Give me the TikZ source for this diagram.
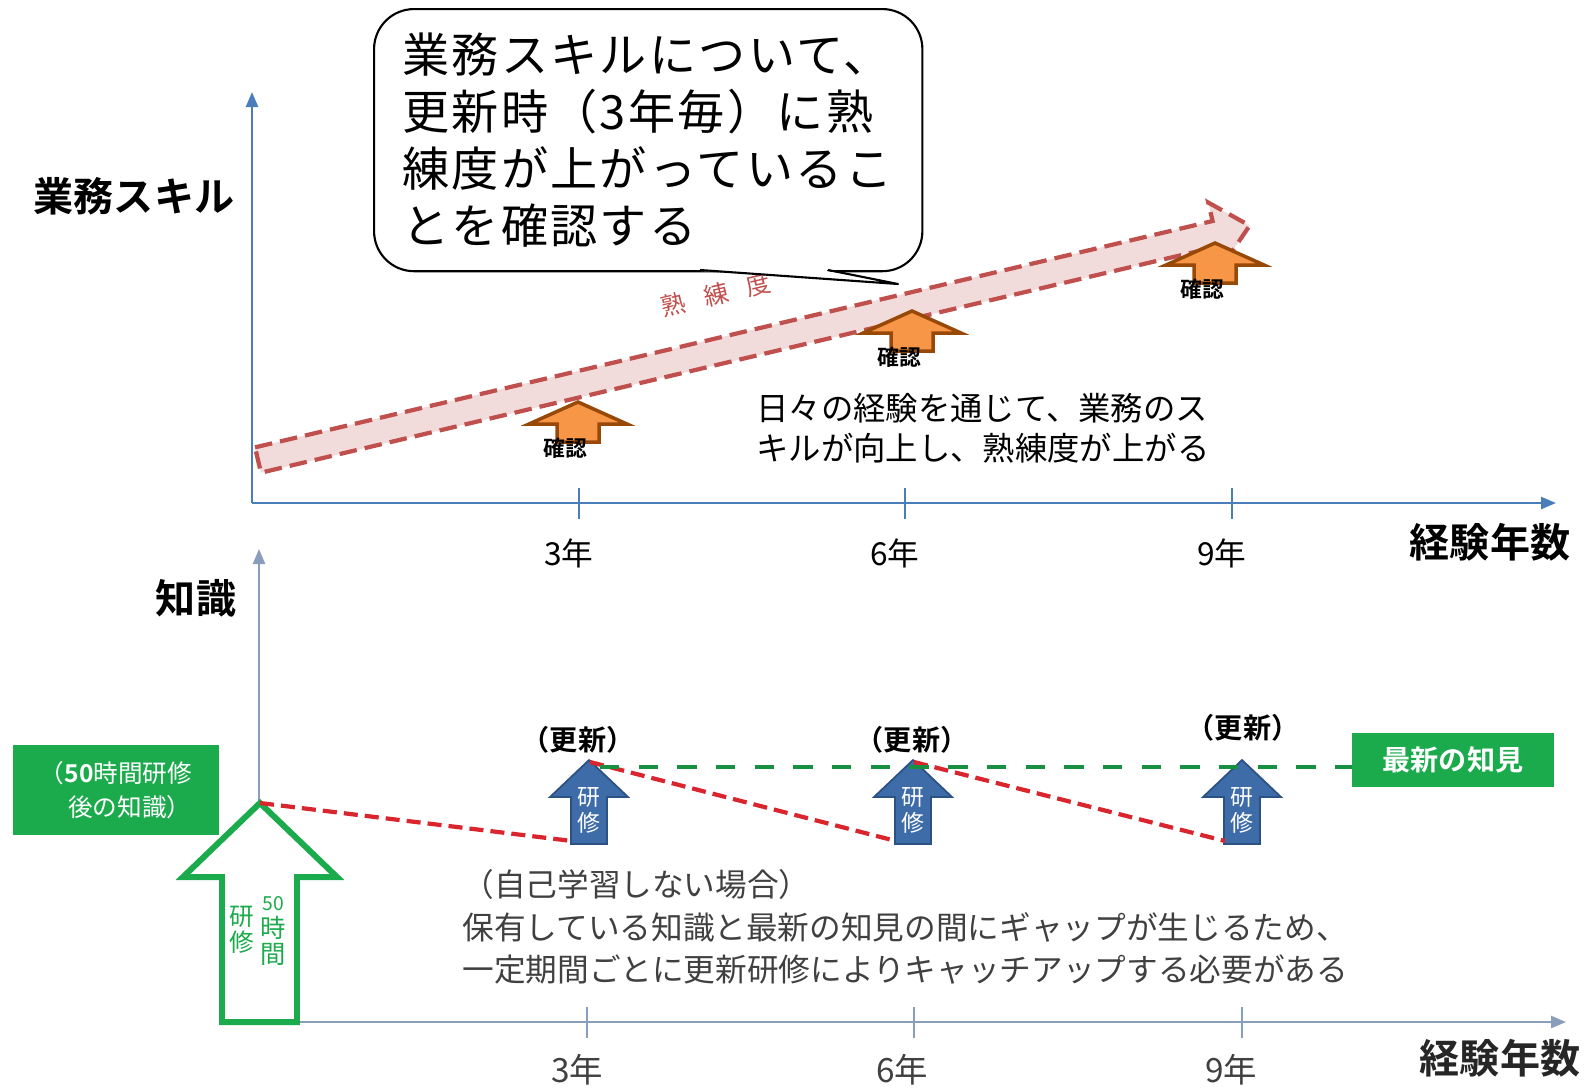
\documentclass[tikz,border=0pt]{standalone}
\usepackage{fontspec}
\setmainfont{Noto Sans CJK JP}[BoldFont={Noto Sans CJK JP Bold}]
\newfontfamily\calloutfont{Noto Sans CJK JP}[LetterSpace=5.0]
\usepackage{tikz}
\usetikzlibrary{arrows.meta}

\definecolor{axisblue}{HTML}{4A7EBB}
\definecolor{axisgray}{HTML}{8A9DBA}
\definecolor{skillred}{HTML}{C0504D}
\definecolor{skillpink}{HTML}{F2DCDB}
\definecolor{chkorange}{HTML}{F79646}
\definecolor{chkbrown}{HTML}{984807}
\definecolor{kenblue}{HTML}{3D6CA8}
\definecolor{kenborder}{HTML}{2C5283}
\definecolor{newgreen}{HTML}{1BAA4C}
\definecolor{gapred}{HTML}{D9262E}
\definecolor{textgray}{HTML}{404040}

\begin{document}
\begin{tikzpicture}[x=0.01cm, y=-0.01cm,
    axis/.style={line width=0.7pt, -{Triangle[length=1.5mm, width=1.2mm]}},
    tick/.style={line width=0.6pt},
    yearlab/.style={font=\fontsize{9pt}{10pt}\selectfont},
    axislab/.style={font=\fontsize{11.4pt}{13pt}\selectfont\bfseries},
    chkarrow/.style={draw=chkbrown, fill=chkorange, line width=1pt, line join=miter},
    chklabel/.style={font=\fontsize{6.2pt}{7pt}\selectfont\bfseries, inner sep=0pt},
    kenarrow/.style={draw=kenborder, fill=kenblue, line width=0.5pt},
    kenlabel/.style={text=white, align=center, inner sep=0pt, font=\fontsize{6.5pt}{7.4pt}\selectfont},
    renew/.style={font=\fontsize{8pt}{9pt}\selectfont\bfseries},
    greenbox/.style={fill=newgreen, text=white, inner sep=0pt}]

    \useasboundingbox (0,0) rectangle (1595,1087);

    % Skill chart
    \coordinate (o-top) at (252,503);
    \coordinate (x-top) at (1556,503);
    \coordinate (y-top) at (252,92);
    \draw[axis, axisblue] (o-top) -- (x-top);
    \draw[axis, axisblue] (o-top) -- (y-top);
    \foreach \x/\lab [count=\i] in {579/3年, 905/6年, 1232/9年} {
        \draw[tick, axisblue] (\x,488) -- (\x,519);
        \node[yearlab] (yr-top-\i) at (\x-10,553) {\lab};
    }
    \node[axislab] (skill-lab) at (134,196) {業務スキル};
    \node[axislab] (exp-top) at (1490,542) {経験年数};

    % Proficiency arrow
    \begin{scope}[shift={(258,460)}, rotate=13.3]
        \draw[draw=skillred, fill=skillpink, line width=1.2pt, dash pattern=on 5pt off 2.3pt]
            (0,-13) -- (984,-13) -- (984,-32) -- (1019,0) -- (984,32) -- (984,13) -- (0,13) -- cycle;
    \end{scope}
    \node[text=skillred, rotate=13.3, font=\fontsize{7pt}{8pt}\selectfont] (skill-word) at (716,295) {熟\hspace{1.9mm}練\hspace{1.9mm}度};

    % Checks
    \foreach \x/\y [count=\i] in {578/402, 912/311, 1215/243} {
        \draw[chkarrow] (\x,\y) -- ++(49,22) -- ++(-28,0) -- ++(0,18) -- ++(-42,0) -- ++(0,-18) -- ++(-28,0) -- cycle;
        \node[chklabel] (chk-\i) at (\x-13,\y+46) {確認};
    }

    \node[anchor=west, align=left, font=\fontsize{9.2pt}{11.5pt}\selectfont] (exp-note) at (744,428)
        {日々の経験を通じて、業務のス\\キルが向上し、熟練度が上がる};

    % Callout
    \node[draw, fill=white, line width=0.6pt, rounded corners=4mm, anchor=north west,
          inner xsep=0.28cm, text width=4.92cm, minimum height=2.62cm, align=left,
          font=\calloutfont\fontsize{13.4pt}{16.2pt}\selectfont] (callout) at (373,8)
        {業務スキルについて、\\更新時（3年毎）に熟\\練度が上がっているこ\\とを確認する};
    \coordinate (callout-tip) at (898,284);
    \fill[white] (701,266) -- (701,271) -- (callout-tip) -- (827,271) -- (827,266) -- cycle;
    \draw[line width=0.6pt, line join=round] (700,270) -- (callout-tip) -- (828,270);

    % Knowledge chart
    \coordinate (o-bot) at (259,1022);
    \coordinate (x-bot) at (1566,1022);
    \coordinate (y-bot) at (259,549);
    \draw[axis, axisgray] (o-bot) -- (x-bot);
    \draw[axis, axisgray] (o-bot) -- (y-bot);
    \foreach \x/\lx/\lab [count=\i] in {587/577/3年, 914/902/6年, 1242/1231/9年} {
        \draw[tick, axisgray] (\x,1007) -- (\x,1038);
        \node[text=textgray, font=\fontsize{9.5pt}{10pt}\selectfont] (yr-bot-\i) at (\lx,1070) {\lab};
    }
    \node[axislab] (know-lab) at (196,598) {知識};
    \node[axislab, text=black!85] (exp-bot) at (1500,1058) {経験年数};

    % 50 hours
    \coordinate (k-tip) at (260,803);
    \draw[draw=newgreen, fill=white, line width=1.7pt]
        (k-tip) -- (337,877) -- (297,877) -- (297,1022) -- (222,1022) -- (222,877) -- (183,877) -- cycle;
    \node[text=newgreen, align=center, inner sep=0pt, font=\fontsize{7pt}{7.4pt}\selectfont] (ken50-a) at (242,930) {研\\修};
    \node[text=newgreen, align=center, inner sep=0pt, font=\fontsize{7.2pt}{7.6pt}\selectfont] (ken50-b) at (273,931)
        {{\fontsize{5.5pt}{5.5pt}\selectfont 50}\\時\\間};
    \node[greenbox, minimum width=2.05cm, minimum height=0.9cm, align=left,
          font=\fontsize{7pt}{9.6pt}\selectfont] (prebox) at (116,790)
        {（\textbf{50}時間研修\\\hspace{1.15em}後の知識）};

    \node[greenbox, minimum width=2.01cm, minimum height=0.54cm,
          font=\fontsize{8pt}{9pt}\selectfont\bfseries] (newbox) at (1453,760) {最新の知見};

    % Renewal training
    \foreach \x/\lx/\ly [count=\i] in {589/578/740, 913/912/740, 1242/1243/728} {
        \draw[kenarrow] (\x,760) -- ++(39,37) -- ++(-21,0) -- ++(0,47) -- ++(-36,0) -- ++(0,-47) -- ++(-21,0) -- cycle;
        \node[kenlabel] (ken-\i) at (\x,810) {研\\修};
        \node[renew] (renew-\i) at (\lx,\ly) {（更新）};
        \coordinate (ken-top-\i) at (\x+1,762);
        \coordinate (ken-bot-\i) at (\x-17,841);
    }

    % Gap lines
    \draw[gapred, line width=1.2pt, dash pattern=on 4pt off 2pt] (k-tip) -- (ken-bot-1);
    \draw[gapred, line width=1.2pt, dash pattern=on 4pt off 2pt] (ken-top-1) -- (ken-bot-2);
    \draw[gapred, line width=1.2pt, dash pattern=on 4pt off 2pt] (ken-top-2) -- (ken-bot-3);
    \coordinate (new-start) at (600,767);
    \draw[newgreen!85!black, line width=0.9pt, dash pattern=on 5.5pt off 5.5pt] (new-start) -- (new-start -| newbox.west);

    \node[anchor=west, align=left, text=textgray, font=\fontsize{9pt}{12pt}\selectfont] (gap-note) at (450,927)
        {（自己学習しない場合）\\保有している知識と最新の知見の間にギャップが生じるため、\\一定期間ごとに更新研修によりキャッチアップする必要がある};

\end{tikzpicture}
\end{document}
